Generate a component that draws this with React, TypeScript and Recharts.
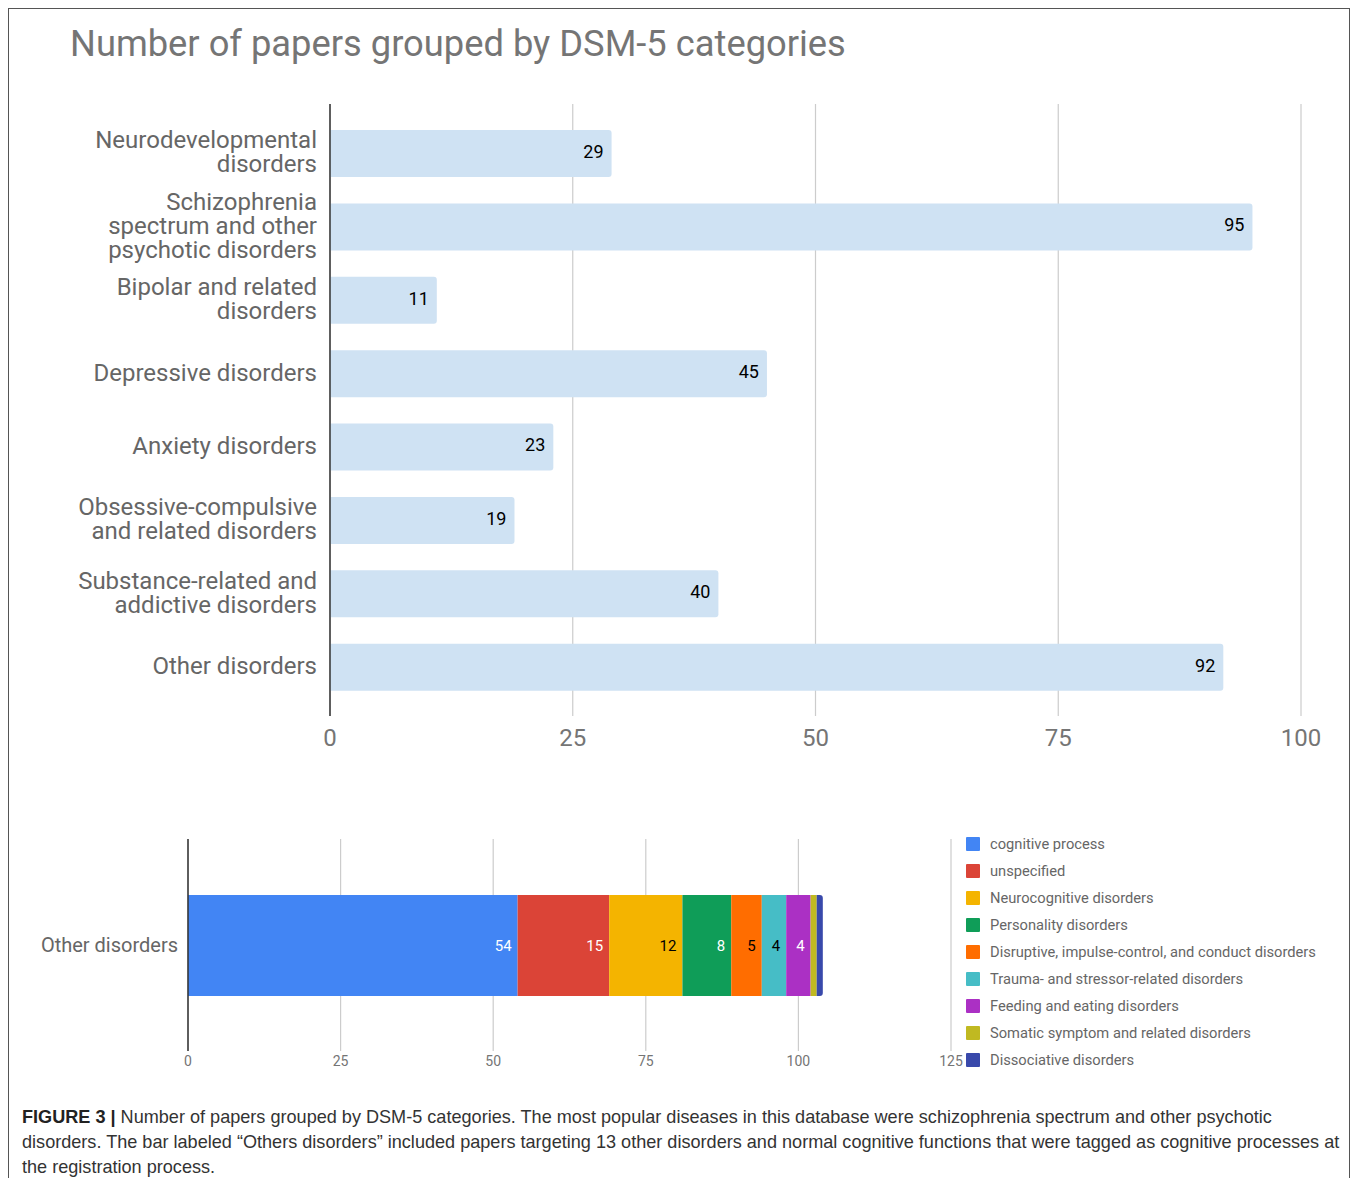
import React from "react";
import { Bar, BarChart, CartesianGrid, LabelList, XAxis, YAxis } from "recharts";

// top chart
const categories = [
  "Neurodevelopmental\ndisorders",
  "Schizophrenia\nspectrum and other\npsychotic disorders",
  "Bipolar and related\ndisorders",
  "Depressive disorders",
  "Anxiety disorders",
  "Obsessive-compulsive\nand related disorders",
  "Substance-related and\naddictive disorders",
  "Other disorders",
];
const paperCounts = [29, 95, 11, 45, 23, 19, 40, 92];
const topTicks = [0, 25, 50, 75, 100];

// bottom chart: breakdown of "Other disorders"
const subKeys = ["cog", "unspec", "neurocog", "personality", "disruptive", "trauma", "feeding", "somatic", "dissociative"];
const subNames = [
  "cognitive process",
  "unspecified",
  "Neurocognitive disorders",
  "Personality disorders",
  "Disruptive, impulse-control, and conduct disorders",
  "Trauma- and stressor-related disorders",
  "Feeding and eating disorders",
  "Somatic symptom and related disorders",
  "Dissociative disorders",
];
const subValues = [54, 15, 12, 8, 5, 4, 4, 1, 1];
const subColors = ["#4285f4", "#db4437", "#f4b400", "#0f9d58", "#ff6d00", "#46bdc6", "#ab30c4", "#c0b921", "#3949ab"];
const subLabelColors = ["#fff", "#fff", "#000", "#fff", "#000", "#000", "#fff", "", ""];
const bottomTicks = [0, 25, 50, 75, 100, 125];

const topData = categories.map((name, i) => ({ name, value: paperCounts[i] }));
const bottomRow: Record<string, any> = { name: "Other disorders" };
subKeys.forEach((k, i) => (bottomRow[k] = subValues[i]));
const bottomData = [bottomRow];

const FONT = "Roboto, 'Noto Sans', sans-serif";

function CategoryTick(props: any) {
  const { x, y, payload } = props;
  const lines = String(payload.value).split("\n");
  const lh = 24;
  const start = y - ((lines.length - 1) * lh) / 2;
  return (
    <text x={x} y={start} textAnchor="end" fontSize={24} fill="#666" fontFamily={FONT}>
      {lines.map((l, i) => (
        <tspan key={i} x={x} y={start + i * lh} dy="0.28em">
          {l}
        </tspan>
      ))}
    </text>
  );
}

export default function App() {
  return (
    <div
      style={{
        position: "relative",
        width: 1342,
        height: 1170,
        border: "1px solid #555",
        borderBottom: "none",
        boxSizing: "border-box",
        overflow: "hidden",
        fontFamily: FONT,
        background: "#fff",
      }}
    >
      <div style={{ position: "absolute", left: 61, top: 13, fontSize: 36.3, color: "#757575", whiteSpace: "nowrap" }}>
        Number of papers grouped by DSM-5 categories
      </div>

      <div style={{ position: "absolute", left: 0, top: 90 }}>
        <BarChart
          width={1334}
          height={670}
          data={topData}
          layout="vertical"
          margin={{ top: 5, right: 42, bottom: 0, left: 0 }}
        >
          <CartesianGrid horizontal={false} stroke="#ccc" strokeWidth={1.2} />
          <XAxis
            type="number"
            domain={[0, 100]}
            ticks={topTicks}
            axisLine={false}
            tickLine={false}
            tickSize={0}
            tickMargin={13}
            height={53}
            tick={{ fontSize: 24, fill: "#757575", fontFamily: FONT }}
          />
          <YAxis
            type="category"
            dataKey="name"
            width={321}
            padding={{ top: 13, bottom: 12 }}
            axisLine={{ stroke: "#333", strokeWidth: 1.5 }}
            tickLine={false}
            tickSize={0}
            tickMargin={13}
            interval={0}
            tick={<CategoryTick />}
          />
          <Bar dataKey="value" fill="#cfe2f3" barSize={47} radius={[0, 3, 3, 0]} isAnimationActive={false}>
            <LabelList dataKey="value" position="insideRight" offset={8} fill="#000" fontSize={18} fontFamily={FONT} dy={-2} />
          </Bar>
        </BarChart>
      </div>

      <div style={{ position: "absolute", left: 0, top: 817 }}>
        <BarChart
          width={965}
          height={255}
          data={bottomData}
          layout="vertical"
          margin={{ top: 13, right: 23, bottom: 0, left: 0 }}
        >
          <CartesianGrid horizontal={false} stroke="#ccc" strokeWidth={1.2} />
          <XAxis
            type="number"
            domain={[0, 125]}
            ticks={bottomTicks}
            axisLine={false}
            tickLine={false}
            tickSize={0}
            tickMargin={5}
            height={30}
            tick={{ fontSize: 14, fill: "#757575", fontFamily: FONT }}
          />
          <YAxis
            type="category"
            dataKey="name"
            width={179}
            axisLine={{ stroke: "#333", strokeWidth: 1.5 }}
            tickLine={false}
            tickSize={0}
            tickMargin={10}
            tick={{ fontSize: 20, fill: "#666", fontFamily: FONT }}
          />
          {subKeys.map((k, i) => (
            <Bar
              key={k}
              dataKey={k}
              stackId="a"
              fill={subColors[i]}
              barSize={101}
              radius={i === subKeys.length - 1 ? [0, 3, 3, 0] : 0}
              isAnimationActive={false}
            >
              {subLabelColors[i] ? (
                <LabelList dataKey={k} position="insideRight" offset={6} fill={subLabelColors[i]} fontSize={15} fontFamily={FONT} />
              ) : null}
            </Bar>
          ))}
        </BarChart>
      </div>

      <div style={{ position: "absolute", left: 957, top: 821 }}>
        {subNames.map((n, i) => (
          <div key={n} style={{ display: "flex", alignItems: "center", height: 27 }}>
            <div style={{ width: 14, height: 14, background: subColors[i], borderRadius: 1, marginRight: 10 }} />
            <span style={{ fontSize: 14.7, color: "#666", whiteSpace: "nowrap" }}>{n}</span>
          </div>
        ))}
      </div>

      <div
        style={{
          position: "absolute",
          left: 13,
          top: 1096,
          fontFamily: "'Liberation Sans', Arial, sans-serif",
          fontSize: 18.1,
          lineHeight: "25px",
          color: "#333",
          whiteSpace: "nowrap",
        }}
      >
        <div>
          <b style={{ color: "#222" }}>FIGURE 3 |</b> Number of papers grouped by DSM-5 categories. The most popular diseases in this database were schizophrenia spectrum and other psychotic
        </div>
        <div>
          disorders. The bar labeled “Others disorders” included papers targeting 13 other disorders and normal cognitive functions that were tagged as cognitive processes at
        </div>
        <div>the registration process.</div>
      </div>
    </div>
  );
}
